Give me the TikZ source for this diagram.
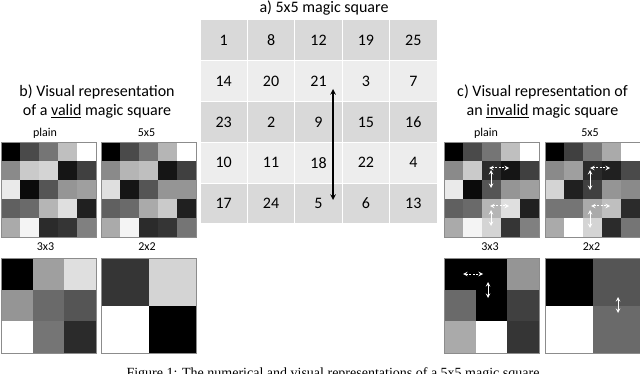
\documentclass[tikz,border=0pt]{standalone}
\usepackage{fontspec}
\setmainfont{Carlito}
\newfontfamily\capfont{Liberation Serif}
\definecolor{rowdark}{HTML}{D9D9D9}
\definecolor{rowlight}{HTML}{EDEDED}
\definecolor{framegray}{HTML}{8C8C8C}

% n x n grid of gray cells: value 1 is black, 25 is white
\newcommand{\shadegrid}[2]{%
  \pgfmathsetmacro{\gcell}{95/#1}
  \foreach \v [count=\k from 0] in {#2} {
    \pgfmathtruncatemacro{\gc}{mod(\k,#1)}
    \pgfmathtruncatemacro{\gr}{div(\k,#1)}
    \pgfmathsetmacro{\gw}{(\v-1)*100/24}
    \fill[white!\gw!black] (\gc*\gcell,\gr*\gcell) rectangle ++(\gcell,\gcell);
  }
  \draw[framegray, line width=0.8pt] (0,0) rectangle (95,95);
}

\begin{document}
\begin{tikzpicture}[
  x=1pt, y=-1pt,
  cellbox/.style={draw=white, line width=1pt, minimum width=47.4pt, minimum height=40.8pt, inner sep=0pt, font=\fontsize{16}{19}\selectfont},
  titletext/.style={anchor=base, font=\fontsize{16}{19}\selectfont},
  gridlabel/.style={anchor=base, font=\fontsize{12}{14}\selectfont},
  swapline/.style={<->, line width=1.5pt},
  swaparrow/.style={<->, white, line width=1pt},
  >=stealth
]
  \useasboundingbox (0,0) rectangle (640,374);

  % a) 5x5 magic square (middle)
  \node[titletext] (atitle) at (324,12.5) {a) 5x5 magic square};
  \foreach \row [count=\rw] in {{1,8,12,19,25},{14,20,21,3,7},{23,2,9,15,16},{10,11,18,22,4},{17,24,5,6,13}} {
    \ifodd\rw \def\rowfill{rowdark}\else \def\rowfill{rowlight}\fi
    \foreach \v [count=\cl] in \row {
      \node[cellbox, fill=\rowfill] (t-\rw-\cl) at ({200+(\cl-0.5)*47.4},{20+(\rw-0.5)*40.8}) {\v};
    }
  }
  \coordinate (swaptop) at (333,89);
  \coordinate (swapbot) at (333,200);
  \draw[swapline] (swaptop) -- (swapbot);

  % b) valid magic square (left)
  \node[titletext] (btitle1) at (97,96.5) {b) Visual representation};
  \node[titletext] (btitle2) at (97,116) {of a \underline{valid} magic square};
  \node[gridlabel] (bplain) at (45,137) {plain};
  \node[gridlabel] (bfive) at (146.5,137) {5x5};
  \node[gridlabel] (bthree) at (45.5,251) {3x3};
  \node[gridlabel] (btwo) at (147,251) {2x2};
  \begin{scope}[shift={(1,142)}]
    \shadegrid{5}{1,8,12,19,25,14,20,21,3,7,23,2,9,15,16,10,11,18,22,4,17,24,5,6,13}
  \end{scope}
  \begin{scope}[shift={(101,142)}]
    \shadegrid{5}{1,8,12,18,25,14,18,19,3,7,22,3,9,15,15,10,11,17,20,4,17,24,5,6,12}
  \end{scope}
  \begin{scope}[shift={(1,258)}]
    \shadegrid{3}{1,16,22,15,11,9,25,12,5}
  \end{scope}
  \begin{scope}[shift={(101,258)}]
    \shadegrid{2}{6,21,25,1}
  \end{scope}

  % c) invalid magic square (right)
  \node[titletext] (ctitle1) at (542.5,96.5) {c) Visual representation of};
  \node[titletext] (ctitle2) at (542.5,116) {an \underline{invalid} magic square};
  \node[gridlabel] (cplain) at (486,137) {plain};
  \node[gridlabel] (cfive) at (590,137) {5x5};
  \node[gridlabel] (cthree) at (490,251) {3x3};
  \node[gridlabel] (ctwo) at (591.5,251) {2x2};
  \begin{scope}[shift={(444,142)}]
    \shadegrid{5}{1,8,12,19,25,14,20,5,3,7,23,2,9,15,16,10,11,18,22,4,17,24,21,6,13}
    \draw[swaparrow, dash pattern=on 2pt off 1.5pt] (45,26) -- (65,26);
    \draw[swaparrow] (47,28) -- (47,46);
    \draw[swaparrow, dash pattern=on 2pt off 1.5pt] (46,64) -- (65,64);
    \draw[swaparrow] (47,68) -- (47,84);
  \end{scope}
  \begin{scope}[shift={(545,142)}]
    \shadegrid{5}{1,7,12,17,25,14,16,5,4,8,21,4,7,15,14,12,12,17,19,5,17,25,21,5,12}
    \draw[swaparrow, dash pattern=on 2pt off 1.5pt] (45,26) -- (65,26);
    \draw[swaparrow] (45,28) -- (45,48);
    \draw[swaparrow, dash pattern=on 2pt off 1.5pt] (46,64) -- (65,64);
    \draw[swaparrow] (45,68) -- (45,86);
  \end{scope}
  \begin{scope}[shift={(444,258)}]
    \shadegrid{3}{1,1,15,11,1,7,17,25,6}
    \draw[swaparrow, dash pattern=on 2pt off 1.5pt] (19,16) -- (39,16);
    \draw[swaparrow] (44,24) -- (44,40);
  \end{scope}
  \begin{scope}[shift={(545,258)}]
    \shadegrid{2}{1,9,25,11}
    \draw[swaparrow] (73,39) -- (73,55);
  \end{scope}

  % caption, cut off at the bottom edge
  \node[anchor=base, font=\capfont\fontsize{14}{16}\selectfont] (caption) at (333,377) {Figure 1: The numerical and visual representations of a 5x5 magic square};
\end{tikzpicture}
\end{document}
